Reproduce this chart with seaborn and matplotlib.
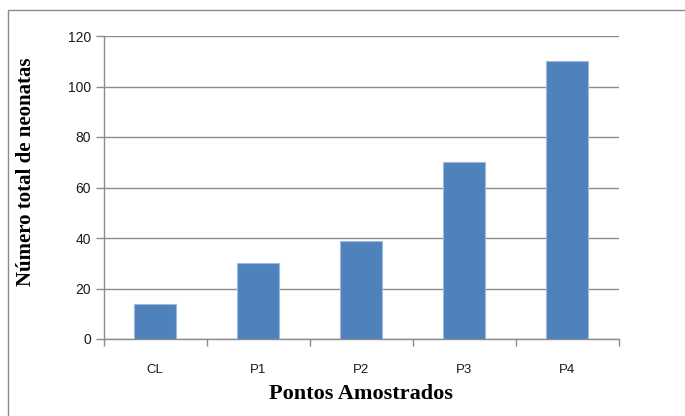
import matplotlib
matplotlib.use("Agg")
import matplotlib.pyplot as plt
from matplotlib.patches import Rectangle
from matplotlib.ticker import FixedLocator
import seaborn as sns
import pandas as pd

pontos = ["CL", "P1", "P2", "P3", "P4"]
neonatas = [14, 30, 39, 70, 110]
yticks = [0, 20, 40, 60, 80, 100, 120]

sns.set_theme(style="white")
plt.rcParams["font.family"] = ["Liberation Sans", "DejaVu Sans"]

df = pd.DataFrame({"ponto": pontos, "total": neonatas})

fig = plt.figure(figsize=(6.85, 4.16), dpi=100)
ax = fig.add_axes([103.5 / 685, 1 - 339 / 416, 515 / 685, 303 / 416])

grid_color = "#8c8c8c"
sns.barplot(data=df, x="ponto", y="total", color="#4F81BD", width=0.4,
            saturation=1, edgecolor="#9DB9DC", linewidth=0.8, ax=ax, zorder=3)

ax.set_ylim(0, 120)
ax.set_xlim(-0.5, len(pontos) - 0.5)
ax.set_yticks(yticks)
ax.set_yticklabels([str(v) for v in yticks], fontsize=10, color="#1a1a1a")
ax.yaxis.grid(True, color=grid_color, linewidth=1.0, zorder=0)
ax.xaxis.grid(False)

# category labels at centers, tick marks between categories
ax.set_xticks(range(len(pontos)))
ax.set_xticklabels(pontos, fontsize=9.5, color="#1a1a1a")
ax.tick_params(axis="x", which="major", length=0, pad=18)
ax.xaxis.set_minor_locator(FixedLocator([i - 0.5 for i in range(len(pontos) + 1)]))
ax.tick_params(axis="x", which="minor", length=5, width=1, color=grid_color,
               direction="out", bottom=True)
ax.tick_params(axis="y", length=6, width=1, color=grid_color, direction="out",
               left=True, pad=3)

for side in ["top", "right"]:
    ax.spines[side].set_visible(False)
for side in ["left", "bottom"]:
    ax.spines[side].set_color(grid_color)
    ax.spines[side].set_linewidth(1.0)

serif = ["Liberation Serif", "DejaVu Serif"]
ax.set_xlabel("Pontos Amostrados", family=serif,
              fontsize=16, fontweight="bold", color="black", labelpad=6)
ax.set_ylabel("Número total de neonatas", family=serif,
              fontsize=15, fontweight="bold", color="black")
ax.yaxis.set_label_coords(-0.131, 0.551)

# outer chart frame
fig.patches.append(Rectangle((8 / 685, -0.5), 2, 1.5 - 10 / 416,
                             transform=fig.transFigure, fill=False,
                             edgecolor="#8a8a8a", linewidth=1.0))

fig.savefig("out.png", dpi=100)
